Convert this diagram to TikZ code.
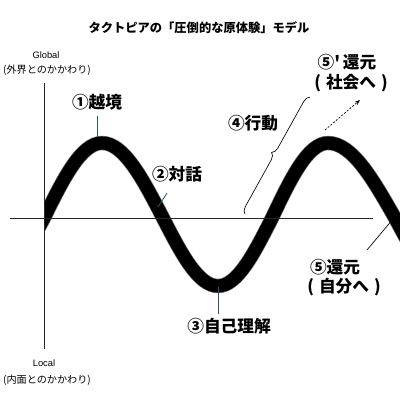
\documentclass[tikz,border=0pt]{standalone}
\usepackage{fontspec}
\setmainfont{Liberation Sans}
\newfontfamily\jp{Noto Sans CJK JP}
\usetikzlibrary{decorations.pathreplacing,arrows.meta}
\definecolor{ptrcol}{RGB}{50,85,95}
\begin{document}
\begin{tikzpicture}[x=0.75pt,y=-0.75pt,
  lbl/.style={font=\jp\bfseries\fontsize{12.5}{14}\selectfont, inner sep=0pt},
  small/.style={font=\fontsize{7}{8}\selectfont, inner sep=0pt},
  smalljp/.style={font=\jp\fontsize{7.6}{9}\selectfont, inner sep=0pt},
  ptr/.style={draw=ptrcol, line width=0.6pt},
  thinline/.style={draw=black, line width=0.5pt},
  axisline/.style={draw=black!85, line width=0.65pt},
  wave/.style={line width=9.8pt, preaction={draw, black!55, line width=10.8pt}}
]
\useasboundingbox (0,0) rectangle (400,400);
\fill[white] (0,0) rectangle (400,400);

\node[font=\jp\bfseries\fontsize{9.2}{11}\selectfont, inner sep=0pt] (title) at (199,28) {タクトピアの「圧倒的な原体験」モデル};

% axis labels
\node[small] (glob) at (46,55) {Global};
\node[smalljp] (globj) at (47,70) {(外界とのかかわり)};
\node[small] (loc) at (44,363) {Local};
\node[smalljp] (locj) at (47,380) {(内面とのかかわり)};

% axes
\coordinate (ytop) at (44,83);
\coordinate (ybot) at (44,349);
\coordinate (xl) at (10,218);
\coordinate (xr) at (373,218);

% wave
\begin{scope}
\clip (44,0) rectangle (400,400);
\draw[wave] (-13,286) cos (44,218) sin (102,143) cos (163,218) sin (218,286) cos (272,218) sin (328,143) cos (395,218) sin (452,286);
\end{scope}

\draw[axisline] (ytop) -- (ybot);
\draw[axisline] (xl) -- (xr);

% labels
\node[lbl] (l1) at (97,102) {①越境};
\node[lbl] (l2) at (177,174) {②対話};
\node[lbl] (l3) at (229,326) {③自己理解};
\node[lbl] (l4) at (253,123) {④行動};
\node[lbl] (l5a) at (347,62) {⑤'\,還元};
\node[lbl] (l5b) at (351,83) {(\hspace{0.3em}社会へ\hspace{0.3em})};
\node[lbl] (l6a) at (335,267) {⑤還元};
\node[lbl] (l6b) at (344,287) {(\hspace{0.3em}自分へ\hspace{0.3em})};

% pointers
\coordinate (p1) at (97,137);
\draw[ptr, shorten <=4pt] (l1.south) -- (p1);
\coordinate (p2a) at (167,193);
\coordinate (p2b) at (158,207);
\draw[ptr] (p2a) -- (p2b);
\coordinate (p3a) at (218,287);
\coordinate (p3b) at (218,314);
\draw[ptr] (p3a) -- (p3b);
\coordinate (p6a) at (393,219);
\coordinate (p6b) at (367,250);
\draw[thinline] (p6a) -- (p6b);

% brace for action
\coordinate (b1) at (245,214);
\coordinate (b2) at (310,97);
\draw[thinline, decorate, decoration={brace, amplitude=5pt}] (b1) -- (b2);

% dashed arrow to society
\coordinate (d1) at (325,130);
\coordinate (d2) at (360,100);
\draw[thinline, dash pattern=on 1.5pt off 1.2pt, -{Stealth[length=4pt,width=3pt]}] (d1) -- (d2);
\end{tikzpicture}
\end{document}
